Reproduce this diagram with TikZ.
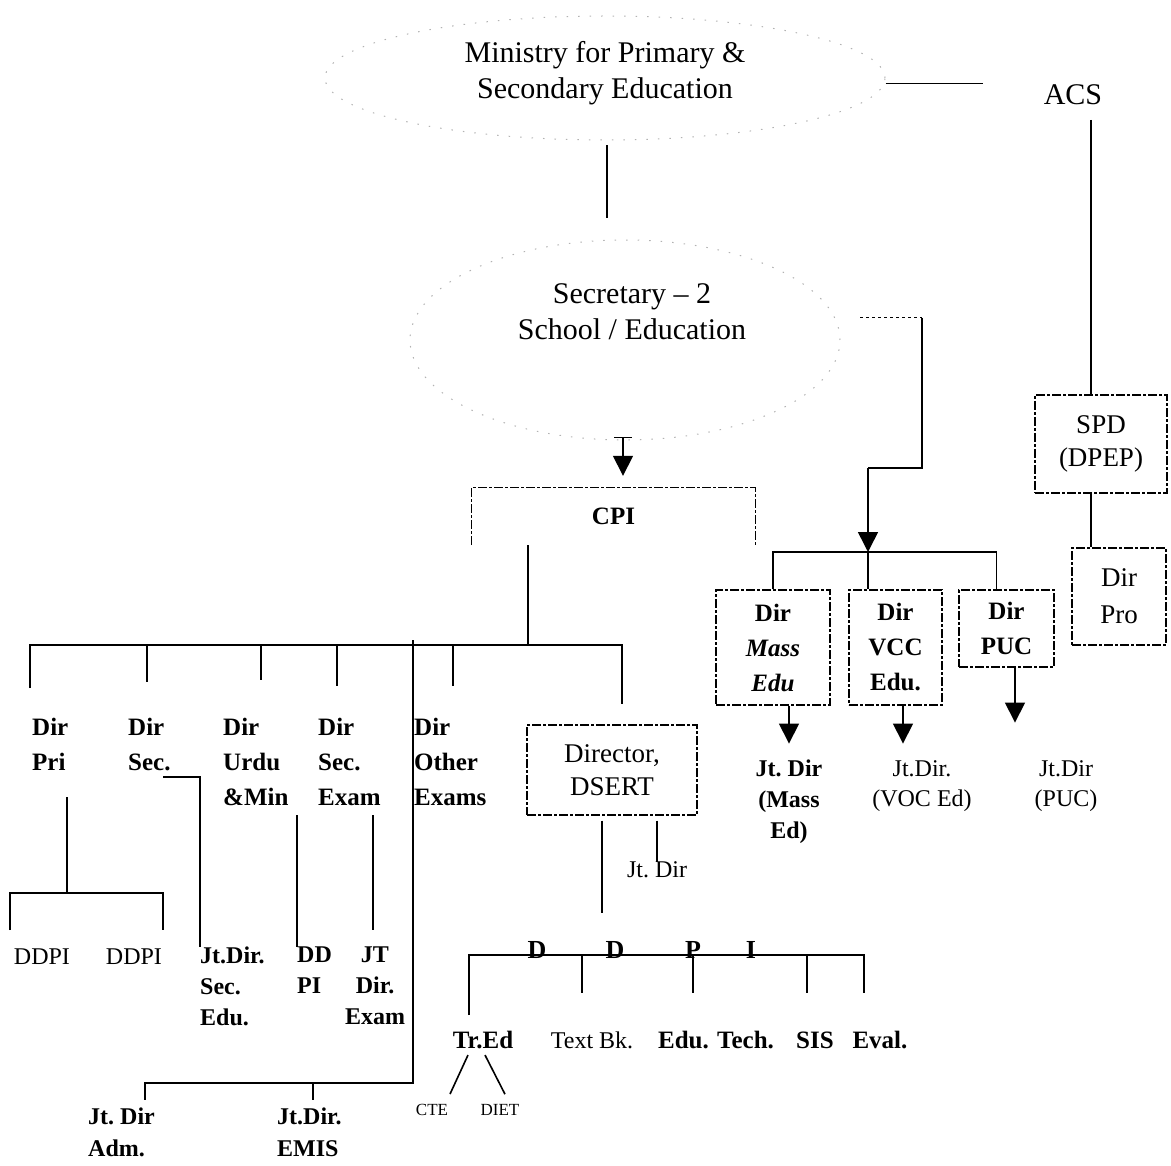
\documentclass[tikz,border=0pt]{standalone}
\usepackage{fontspec}
\setmainfont{Liberation Serif}
\usetikzlibrary{arrows.meta,positioning,shapes.geometric,calc}

\begin{document}
\begin{tikzpicture}[x=1pt,y=-1pt,
    big/.style={font=\fontsize{30}{36}\selectfont,align=center,inner sep=0pt},
    rtext/.style={font=\fontsize{27}{33}\selectfont,align=center,inner sep=0pt},
    btext/.style={font=\fontsize{25}{35}\selectfont\bfseries,align=left,inner sep=0pt},
    stext/.style={font=\fontsize{17}{20}\selectfont,inner sep=0pt},
    dbox/.style={draw,line width=1.1pt,dash pattern=on 9pt off 2pt on 3pt off 2pt},
    faint/.style={draw=black!30,line width=1pt,dash pattern=on 1.5pt off 10pt},
    conn/.style={line width=1.6pt},
    arr/.style={conn,-{Triangle[length=20pt,width=20pt]}}]
  \useasboundingbox (0,0) rectangle (1171,1166);

  \node[faint,ellipse,minimum width=560pt,minimum height=124pt] (mini) at (605,78) {};
  \node[big] (minitxt) at (605,73) {Ministry for Primary \&\\Secondary Education};
  \node[big] (acs) at (1073,95) {ACS};
  \coordinate (acsw) at (983,84);
  \draw[line width=1pt] ([yshift=-6pt]mini.east) -- (acsw);
  \coordinate (secup) at (607,218);
  \draw[conn] ([shift={(2pt,-5pt)}]mini.south) -- (secup);

  \node[faint,ellipse,minimum width=430pt,minimum height=200pt] (sec) at (625,340) {};
  \node[big] (sectxt) at (632,312) {Secretary -- 2\\School / Education};

  \node[btext,align=center,minimum width=283pt,minimum height=57pt] (cpi) at (613.5,516.5) {CPI};
  \draw[dbox] (cpi.south west) |- (cpi.north east) -- (cpi.south east);
  \coordinate (sectick) at (623,438);
  \draw[line width=1pt] ([xshift=-9pt]sectick) -- ([xshift=9pt]sectick);
  \draw[arr] (sectick) -- ([yshift=12pt]cpi.north -| sectick);

  \coordinate (dirbus) at (528,645);
  \draw[conn] (cpi.south -| dirbus) -- (dirbus);

  \node[btext,anchor=north west] (dpri) at (32,718) {Dir\\Pri};
  \node[btext,anchor=north west] (dsec) at (128,718) {Dir\\Sec.};
  \node[btext,anchor=north west] (durdu) at (223,718) {Dir\\Urdu\\\&Min};
  \node[btext,anchor=north west] (dexam) at (318,718) {Dir\\Sec.\\Exam};
  \node[btext,anchor=north west] (dother) at (414,718) {Dir\\Other\\Exams};
  \node[dbox,rtext,minimum width=170pt,minimum height=90pt] (dsert) at (612,770) {Director,\\DSERT};

  \draw[conn] (30,688) |- ([xshift=10pt]dsert.north |- dirbus) -- ([shift={(10pt,20pt)}]dsert.north);
  \foreach \x/\y in {147/682,261/680,337/686,453/686}
    \draw[conn] (\x,645) -- (\x,\y);

  % primary / secondary branches
  \node[rtext,font=\fontsize{24}{30}\selectfont] (ddpia) at (42,957) {DDPI};
  \node[rtext,font=\fontsize{24}{30}\selectfont] (ddpib) at (134,957) {DDPI};
  \coordinate (pribus) at (67,893);
  \draw[conn] (67,797) -- (pribus);
  \draw[conn] (10,930) |- (163,893) -- (163,930);

  \node[btext,font=\fontsize{24}{31}\selectfont\bfseries,anchor=north west] (jtsec) at (200,947) {Jt.Dir.\\Sec.\\Edu.};
  \node[btext,font=\fontsize{24}{31}\selectfont\bfseries,anchor=north west] (ddpic) at (297,947) {DD\\PI};
  \node[btext,font=\fontsize{24}{31}\selectfont\bfseries,align=center,anchor=north] (jtexam) at (375,947) {JT\\Dir.\\Exam};
  \draw[conn] (163,777) -| (jtsec.north west);
  \draw[conn] (297,815) -- (ddpic.north west);
  \draw[conn] (373,815) -- (373,930);

  \node[btext,font=\fontsize{24}{32}\selectfont\bfseries,anchor=north west] (jtadm) at (88,1108) {Jt.\ Dir\\Adm.};
  \node[btext,font=\fontsize{24}{32}\selectfont\bfseries,anchor=north west] (jtemis) at (277,1108) {Jt.Dir.\\EMIS};
  \draw[conn] (413,640) -- (413,1083) -| ([xshift=57pt,yshift=8pt]jtadm.north west);
  \draw[conn] (313,1083) -- ([xshift=36pt,yshift=8pt]jtemis.north west);

  % DSERT
  \node[rtext,font=\fontsize{24}{30}\selectfont] (jtdsert) at (657,870) {Jt.\ Dir};
  \draw[conn] ([yshift=-5pt]dsert.south -| jtdsert.north) -- (jtdsert.north);
  \coordinate (ddpitop) at (602,913);
  \draw[conn] ([yshift=-5pt]dsert.south -| ddpitop) -- (ddpitop);

  \foreach \l/\x [count=\i] in {D/537,D/615,P/693,I/751}
    \node[btext,font=\fontsize{26}{30}\selectfont\bfseries,anchor=base] (dp\i) at (\x,958) {\l};
  \draw[conn] (469,1015) |- (864,955) -- (864,993);
  \foreach \x in {582,693,807}
    \draw[conn] (\x,955) -- (\x,993);

  \node[btext] (tred) at (483,1040) {Tr.Ed};
  \node[rtext,font=\fontsize{24}{30}\selectfont] (textbk) at (592,1040) {Text Bk.};
  \node[btext] (edutech) at (716,1040) {Edu. Tech.};
  \node[btext] (sis) at (815,1040) {SIS};
  \node[btext] (eval) at (880,1040) {Eval.};
  \node[stext] (cte) at (432,1110) {CTE};
  \node[stext] (diet) at (500,1110) {DIET};
  \draw[conn] ([xshift=-15pt,yshift=-6pt]tred.south) -- ([xshift=18pt,yshift=10pt]cte.north);
  \draw[conn] ([xshift=2pt,yshift=-6pt]tred.south) -- ([xshift=5pt,yshift=10pt]diet.north);

  % right hand side
  \coordinate (secr) at (860,318);
  \coordinate (rbend) at (922,468);
  \coordinate (rbus) at (868,552);
  \draw[line width=1pt,dashed] (secr) -- (secr -| rbend);
  \draw[conn] (secr -| rbend) -- (rbend) -- (rbend -| rbus);
  \draw[arr] (rbend -| rbus) -- (rbus);

  \node[dbox,btext,align=center,minimum width=114pt,minimum height=115pt] (mass) at (773,647.5) {Dir\\\textit{Mass}\\\textit{Edu}};
  \node[dbox,btext,align=center,minimum width=93pt,minimum height=115pt] (vcc) at (895.5,647.5) {Dir\\VCC\\Edu.};
  \node[dbox,btext,align=center,minimum width=95pt,minimum height=77pt] (puc) at (1006.5,628.5) {Dir\\PUC};
  \draw[conn] (mass.north) |- (rbus) -| ([xshift=-10pt]puc.north);
  \draw[conn] (rbus) -- (vcc.north -| rbus);

  \node[btext,font=\fontsize{24}{31}\selectfont\bfseries,align=center,anchor=north] (jtmass) at (789,760) {Jt.\ Dir\\(Mass\\Ed)};
  \node[rtext,font=\fontsize{24}{30}\selectfont,anchor=north] (jtvoc) at (922,760) {Jt.Dir.\\(VOC Ed)};
  \node[rtext,font=\fontsize{24}{30}\selectfont,anchor=north] (jtpuc) at (1066,760) {Jt.Dir\\(PUC)};
  \draw[arr] ([xshift=16pt]mass.south) -- ([xshift=16pt,yshift=-38pt]mass.south);
  \draw[arr] ([xshift=7.5pt]vcc.south) -- ([xshift=7.5pt,yshift=-38pt]vcc.south);
  \draw[arr] ([xshift=8.5pt]puc.south) -- ([xshift=8.5pt,yshift=-55pt]puc.south);

  \node[dbox,rtext,minimum width=132pt,minimum height=98pt] (spd) at (1101,444) {SPD\\(DPEP)};
  \node[dbox,rtext,font=\fontsize{27}{37}\selectfont,minimum width=94pt,minimum height=97pt] (pro) at (1119,596.5) {Dir\\Pro};
  \coordinate (acsdown) at (1091,120);
  \draw[conn] (acsdown) -- (spd.north -| acsdown);
  \draw[conn] (spd.south -| acsdown) -- (pro.north -| acsdown);
\end{tikzpicture}
\end{document}
